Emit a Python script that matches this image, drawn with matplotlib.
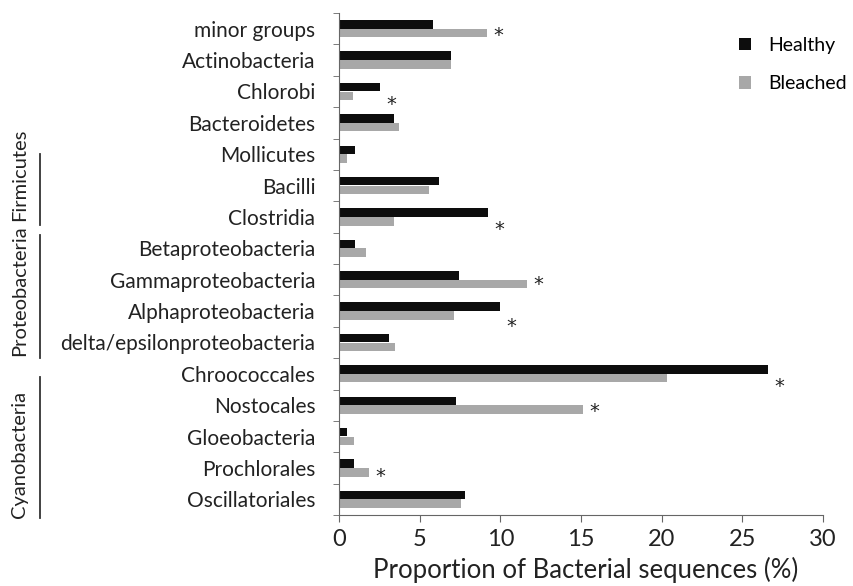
import matplotlib.pyplot as plt
import numpy as np

plt.rcParams['font.family'] = ['Lato', 'DejaVu Sans']

categories = ['minor groups', 'Actinobacteria', 'Chlorobi', 'Bacteroidetes',
              'Mollicutes', 'Bacilli', 'Clostridia', 'Betaproteobacteria',
              'Gammaproteobacteria', 'Alphaproteobacteria',
              'delta/epsilonproteobacteria', 'Chroococcales', 'Nostocales',
              'Gloeobacteria', 'Prochlorales', 'Oscillatoriales']
healthy = [5.85, 6.95, 2.55, 3.4, 1.0, 6.2, 9.25, 1.0, 7.45, 9.95,
           3.1, 26.6, 7.25, 0.5, 0.95, 7.8]
bleached = [9.15, 6.95, 0.85, 3.7, 0.5, 5.6, 3.4, 1.65, 11.65, 7.15,
            3.45, 20.3, 15.15, 0.95, 1.85, 7.55]
significant = ['minor groups', 'Chlorobi', 'Clostridia', 'Gammaproteobacteria',
               'Alphaproteobacteria', 'Chroococcales', 'Nostocales', 'Prochlorales']
groups = ['Firmicutes', 'Proteobacteria', 'Cyanobacteria']
group_members = [('Mollicutes', 'Clostridia'),
                 ('Betaproteobacteria', 'delta/epsilonproteobacteria'),
                 ('Chroococcales', 'Oscillatoriales')]

W, H = 854, 586
fig = plt.figure(figsize=(W / 100, H / 100), dpi=100)
ax = fig.add_axes([339 / W, 1 - 515 / H, (823 - 339) / W, (515 - 13) / H])

y = np.arange(len(categories))
bh = 0.27
ax.barh(y - 0.14, healthy, height=bh, color='#0d0d0d', label='Healthy')
ax.barh(y + 0.14, bleached, height=bh, color='#a8a8a8', label='Bleached')

# stars for significant differences
star_dy = {'minor groups': 0.13, 'Chlorobi': 0.33, 'Clostridia': 0.31,
           'Gammaproteobacteria': 0.06, 'Alphaproteobacteria': 0.4,
           'Chroococcales': 0.3, 'Nostocales': 0.1, 'Prochlorales': 0.16}
for name in significant:
    i = categories.index(name)
    xs = max(healthy[i], bleached[i]) + 0.7
    ax.text(xs, i + star_dy[name] + 0.1, '*', ha='center', va='center',
            fontsize=14, color='#222222', family='DejaVu Sans')

ax.set_xlim(0, 30)
ax.set_ylim(len(categories) - 0.5, -0.5)
ax.set_xticks(range(0, 31, 5))
ax.set_yticks(y)
ax.set_yticklabels(categories, fontsize=15, color='#222222')
ax.set_yticks(np.arange(-0.5, len(categories), 1), minor=True)
ax.tick_params(axis='y', which='major', length=0, pad=17)
ax.tick_params(axis='y', which='minor', length=4, direction='out', color='#666666')
ax.tick_params(axis='x', length=5, direction='out', color='#666666',
               labelsize=17, labelcolor='#222222', pad=5)
for s in ['top', 'right']:
    ax.spines[s].set_visible(False)
for s in ['left', 'bottom']:
    ax.spines[s].set_color('#666666')
ax.set_xlabel('Proportion of Bacterial sequences (%)', fontsize=18.5,
              color='#222222')
ax.xaxis.set_label_coords(0.51, -0.084)

ax.legend(loc='upper left', bbox_to_anchor=(739 / W, 1 - 37 / H),
          bbox_transform=fig.transFigure, frameon=False, fontsize=14,
          handlelength=0.6, handleheight=0.6, labelspacing=1.1,
          handletextpad=0.9, borderpad=0, borderaxespad=0)

# group brackets on the left (hand drawn in the original, so uneven ends)
line_ends = [(0.0, 0.25), (-0.43, 0.5), (0.1, 0.6)]
text_lift = [4, 2, 0]
for name, (a, b), (dt, db), lift in zip(groups, group_members, line_ends, text_lift):
    ia, ib = categories.index(a), categories.index(b)
    top = ax.transData.transform((0, ia + dt))[1]
    bot = ax.transData.transform((0, ib + db))[1]
    fig.lines.append(plt.Line2D([40 / W, 40 / W], [top / H, bot / H],
                                transform=fig.transFigure, color='#333333', lw=1.3))
    fig.text(20 / W, (bot + lift) / H, name, rotation=90, ha='center',
             va='bottom', fontsize=14.5, color='#222222')

fig.savefig('out.png', dpi=100)
